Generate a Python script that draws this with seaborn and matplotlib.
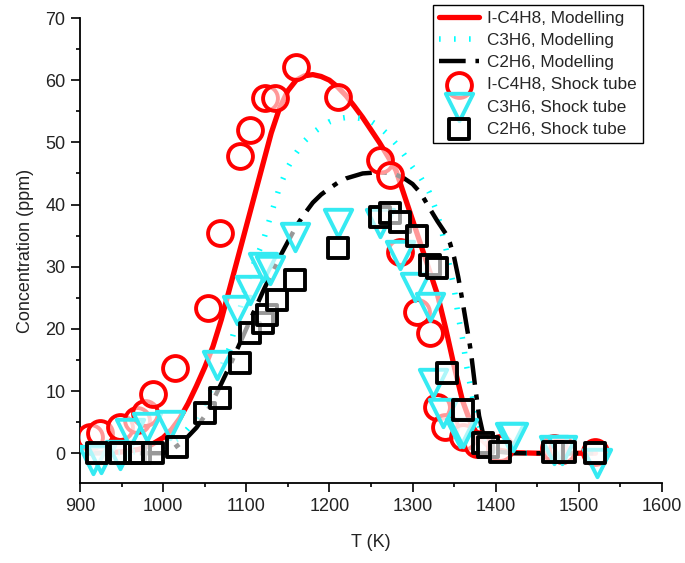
import numpy as np
import pandas as pd
import seaborn as sns
import matplotlib.pyplot as plt
from matplotlib.ticker import MultipleLocator

# modelling curves
T_ic4h8_mod = [910, 950, 970, 985, 1000, 1010, 1020, 1030, 1040, 1050, 1060, 1070, 1080,
               1090, 1100, 1110, 1120, 1130, 1140, 1150, 1160, 1170, 1180, 1190, 1200,
               1210, 1220, 1230, 1240, 1250, 1260, 1270, 1280, 1290, 1300, 1310, 1320,
               1330, 1340, 1350, 1360, 1370, 1380, 1390, 1400, 1420, 1450, 1520]
ic4h8_mod = [0.0, 0.2, 0.6, 1.3, 2.5, 3.8, 5.6, 8.0, 10.8, 13.8, 17.2, 21.5, 26.5,
             31.5, 36.5, 41.5, 46.5, 51.5, 55.5, 58.3, 60.0, 60.7, 60.9, 60.6, 60.0,
             58.9, 57.5, 55.8, 54.0, 52.0, 50.0, 47.8, 45.5, 41.5, 37.5, 33.5, 29.5,
             25.5, 20.0, 14.0, 8.5, 4.8, 2.6, 1.3, 0.6, 0.1, 0.0, 0.0]

T_c3h6_mod = [910, 950, 975, 1000, 1020, 1040, 1050, 1060, 1070, 1080, 1090, 1100, 1110,
              1120, 1130, 1140, 1150, 1160, 1170, 1180, 1190, 1200, 1210, 1220, 1230,
              1240, 1250, 1260, 1270, 1280, 1290, 1300, 1310, 1320, 1330, 1340, 1350,
              1355, 1360, 1365, 1370, 1375, 1380, 1390, 1400, 1420, 1520]
c3h6_mod = [0.0, 0.1, 0.3, 1.0, 2.5, 5.5, 8.0, 10.8, 13.8, 17.0, 22.0, 27.0, 30.8,
            34.0, 38.5, 42.8, 46.0, 48.3, 50.2, 51.5, 52.5, 53.3, 53.8, 54.0, 54.0,
            53.8, 53.4, 52.5, 51.3, 49.8, 48.0, 46.0, 44.3, 42.0, 38.5, 33.0, 26.5,
            22.0, 18.5, 14.0, 10.5, 7.0, 4.5, 1.8, 0.5, 0.0, 0.0]

T_c2h6_mod = [910, 1000, 1010, 1020, 1030, 1040, 1050, 1060, 1070, 1080, 1090, 1100, 1110,
              1120, 1130, 1140, 1150, 1160, 1170, 1180, 1190, 1200, 1210, 1220, 1230,
              1240, 1250, 1260, 1270, 1280, 1290, 1300, 1310, 1320, 1330, 1340, 1345,
              1350, 1355, 1360, 1365, 1370, 1375, 1380, 1385, 1390, 1400, 1420, 1520]
c2h6_mod = [0.0, 0.0, 0.5, 1.5, 2.7, 4.1, 6.0, 8.5, 11.2, 14.0, 17.0, 20.0, 23.0,
            26.0, 28.8, 31.5, 34.0, 36.5, 38.5, 40.3, 41.6, 42.6, 43.5, 44.2, 44.6,
            45.0, 45.1, 45.2, 45.1, 44.8, 44.2, 43.3, 41.8, 39.5, 37.3, 35.3, 33.8,
            31.5, 28.3, 24.5, 20.5, 16.5, 11.0, 6.0, 3.0, 1.4, 0.3, 0.0, 0.0]

# shock tube measurements
T_ic4h8_exp = [912, 924, 948, 968, 978, 988, 1014, 1054, 1068, 1092, 1104, 1122, 1134,
               1160, 1210, 1261, 1273, 1285, 1305, 1321, 1329, 1339, 1361, 1378, 1405,
               1470, 1480, 1520]
ic4h8_exp = [2.6, 3.2, 4.2, 5.3, 6.4, 9.6, 13.7, 23.3, 35.4, 47.8, 52.0, 57.1, 57.1,
             62.1, 57.3, 47.2, 44.7, 32.3, 22.7, 19.3, 7.4, 4.2, 2.6, 1.5, 0.8,
             0.8, 0.5, 0.2]

T_c3h6_exp = [916, 925, 948, 960, 980, 1008, 1065, 1089, 1104, 1120, 1128, 1159, 1210,
              1261, 1285, 1303, 1321, 1325, 1337, 1357, 1361, 1417, 1421, 1470, 1480, 1522]
c3h6_exp = [-1.1, -1.0, -0.3, 3.2, 4.2, 4.5, 14.2, 23.0, 26.2, 30.0, 29.4, 34.8, 37.0,
            37.0, 31.9, 26.7, 23.5, 11.3, 6.4, 3.2, 3.2, 2.6, 2.6, 0.5, 0.5, -1.6]

T_c2h6_exp = [920, 948, 966, 972, 988, 1017, 1050, 1068, 1092, 1104, 1120, 1125, 1137,
              1159, 1210, 1261, 1273, 1285, 1305, 1321, 1329, 1341, 1361, 1385, 1391,
              1405, 1469, 1483, 1520]
c2h6_exp = [0.0, 0.0, 0.0, 0.0, 0.0, 1.0, 6.4, 8.9, 14.5, 19.3, 21.0, 22.2, 24.6,
            27.8, 33.0, 38.0, 38.6, 37.2, 35.0, 30.3, 29.8, 12.9, 6.9, 1.6, 1.0,
            0.2, 0.2, 0.2, 0.0]

sns.set_style("ticks")
plt.rcParams['font.family'] = ['Liberation Sans', 'DejaVu Sans']

fig = plt.figure(figsize=(6.85, 5.63), dpi=100)
ax = fig.add_axes([0.1168, 0.142, 0.8496, 0.826])

red = "#FF0000"
cyan = "#35EAF2"
fill = (1, 1, 1, 0.6)

sns.lineplot(x=T_ic4h8_mod, y=ic4h8_mod, ax=ax, color=red, linewidth=3.8,
             label="I-C4H8, Modelling", zorder=2)
sns.lineplot(x=T_c3h6_mod, y=c3h6_mod, ax=ax, color="#00FFFF", linewidth=4.0,
             linestyle=(0, (0.3, 2.4)), dash_capstyle="butt",
             label="C3H6, Modelling", zorder=2)
sns.lineplot(x=T_c2h6_mod, y=c2h6_mod, ax=ax, color="black", linewidth=3.2,
             linestyle=(0, (6.0, 2.2, 1.2, 2.2)), dash_capstyle="butt",
             label="C2H6, Modelling", zorder=2)

sns.scatterplot(x=T_ic4h8_exp, y=ic4h8_exp, ax=ax, marker="o", s=320,
                facecolor=fill, edgecolor=red, linewidth=2.8,
                label="I-C4H8, Shock tube", zorder=3)
sns.scatterplot(x=T_c3h6_exp, y=c3h6_exp, ax=ax, marker="v", s=390,
                facecolor=fill, edgecolor=cyan, linewidth=2.8,
                label="C3H6, Shock tube", zorder=4)
sns.scatterplot(x=T_c2h6_exp, y=c2h6_exp, ax=ax, marker="s", s=210,
                facecolor=fill, edgecolor="black", linewidth=2.8,
                label="C2H6, Shock tube", zorder=5)

ax.set_xlim(900, 1600)
ax.set_ylim(-4.8, 70)
ax.xaxis.set_major_locator(MultipleLocator(100))
ax.xaxis.set_minor_locator(MultipleLocator(50))
ax.yaxis.set_major_locator(MultipleLocator(10))
ax.yaxis.set_minor_locator(MultipleLocator(5))
ax.tick_params(which="major", direction="out", length=6.5, width=1.2, labelsize=13,
               color="black", labelcolor="#222222", pad=4)
ax.tick_params(which="minor", direction="out", length=3.2, width=1.2, color="black")
for side in ["left", "bottom"]:
    ax.spines[side].set_linewidth(1.3)
    ax.spines[side].set_color("black")
sns.despine(ax=ax)

ax.set_xlabel("T (K)", fontsize=13, labelpad=14, color="#222222")
ax.set_ylabel("Concentration (ppm)", fontsize=13, labelpad=8, color="#222222")

leg = ax.legend(loc="upper right", bbox_to_anchor=(0.967, 1.028), borderaxespad=0,
                fontsize=12.3, frameon=True, fancybox=False, framealpha=1,
                edgecolor="black", handlelength=2.3, labelspacing=0.42,
                borderpad=0.35, handletextpad=0.5)
leg.get_frame().set_linewidth(1.0)

fig.savefig("out.png", dpi=100)
